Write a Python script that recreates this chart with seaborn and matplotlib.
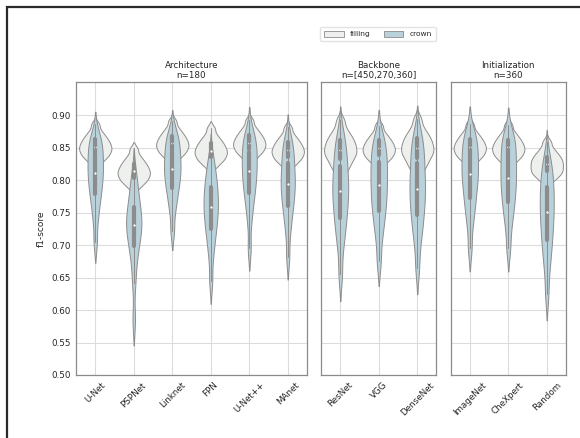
import numpy as np
import pandas as pd
import matplotlib
matplotlib.use("Agg")
import matplotlib.pyplot as plt
import seaborn as sns
from matplotlib.patches import Patch, Rectangle

# ---------------- data ----------------
arch_cats = ["U-Net", "PSPNet", "Linknet", "FPN", "U-Net++", "MAnet"]
back_cats = ["ResNet", "VGG", "DenseNet"]
init_cats = ["ImageNet", "CheXpert", "Random"]
panel_titles = ["Architecture\nn=180", "Backbone\nn=[450,270,360]", "Initialization\nn=360"]
types = ["filling", "crown"]

# filling distributions (approximate quantiles)
f_unet     = [0.826, 0.832, 0.836, 0.839, 0.842, 0.845, 0.848, 0.850, 0.853, 0.856, 0.859, 0.862, 0.866, 0.870, 0.876, 0.886]
f_pspnet   = [0.788, 0.794, 0.798, 0.801, 0.804, 0.807, 0.810, 0.812, 0.815, 0.818, 0.821, 0.824, 0.828, 0.832, 0.838, 0.848]
f_linknet  = [0.831, 0.837, 0.841, 0.844, 0.847, 0.850, 0.853, 0.855, 0.858, 0.861, 0.864, 0.867, 0.871, 0.875, 0.881, 0.891]
f_fpn      = [0.820, 0.826, 0.830, 0.833, 0.836, 0.839, 0.842, 0.844, 0.847, 0.850, 0.853, 0.856, 0.860, 0.864, 0.870, 0.880]
f_unetpp   = [0.832, 0.838, 0.842, 0.845, 0.848, 0.851, 0.854, 0.856, 0.859, 0.862, 0.865, 0.868, 0.872, 0.876, 0.882, 0.892]
f_manet    = [0.821, 0.827, 0.831, 0.834, 0.837, 0.840, 0.843, 0.845, 0.848, 0.851, 0.854, 0.857, 0.861, 0.865, 0.871, 0.881]
f_resnet   = [0.806, 0.817, 0.823, 0.829, 0.834, 0.838, 0.842, 0.845, 0.849, 0.853, 0.857, 0.861, 0.866, 0.871, 0.879, 0.892]
f_vgg      = [0.824, 0.830, 0.834, 0.837, 0.840, 0.843, 0.846, 0.848, 0.851, 0.854, 0.857, 0.860, 0.864, 0.868, 0.874, 0.884]
f_densenet = [0.808, 0.819, 0.825, 0.831, 0.836, 0.840, 0.844, 0.847, 0.851, 0.855, 0.859, 0.863, 0.868, 0.873, 0.881, 0.894]
f_imagenet = [0.826, 0.832, 0.836, 0.839, 0.842, 0.845, 0.848, 0.850, 0.853, 0.856, 0.859, 0.862, 0.866, 0.870, 0.876, 0.886]
f_chexpert = [0.825, 0.831, 0.835, 0.838, 0.841, 0.844, 0.847, 0.849, 0.852, 0.855, 0.858, 0.861, 0.865, 0.869, 0.875, 0.885]
f_random   = [0.798, 0.804, 0.808, 0.811, 0.814, 0.817, 0.820, 0.823, 0.826, 0.829, 0.832, 0.835, 0.839, 0.843, 0.849, 0.859]

# crown distributions (approximate quantiles)
c_unet     = [0.705, 0.738, 0.757, 0.771, 0.781, 0.791, 0.799, 0.807, 0.815, 0.822, 0.830, 0.838, 0.846, 0.854, 0.862, 0.873]
c_pspnet   = [0.585, 0.642, 0.672, 0.690, 0.702, 0.712, 0.720, 0.727, 0.734, 0.741, 0.748, 0.756, 0.766, 0.778, 0.792, 0.810]
c_linknet  = [0.722, 0.752, 0.768, 0.780, 0.790, 0.798, 0.806, 0.813, 0.820, 0.827, 0.834, 0.842, 0.850, 0.858, 0.866, 0.878]
c_fpn      = [0.645, 0.682, 0.702, 0.716, 0.727, 0.737, 0.746, 0.754, 0.762, 0.770, 0.778, 0.787, 0.796, 0.806, 0.818, 0.836]
c_unetpp   = [0.695, 0.736, 0.758, 0.772, 0.783, 0.793, 0.802, 0.810, 0.818, 0.826, 0.834, 0.842, 0.850, 0.858, 0.866, 0.878]
c_manet    = [0.682, 0.718, 0.738, 0.752, 0.763, 0.773, 0.782, 0.790, 0.798, 0.806, 0.815, 0.824, 0.834, 0.844, 0.854, 0.866]
c_resnet   = [0.655, 0.696, 0.717, 0.732, 0.745, 0.757, 0.768, 0.778, 0.787, 0.797, 0.807, 0.818, 0.830, 0.842, 0.855, 0.872]
c_vgg      = [0.675, 0.710, 0.729, 0.744, 0.756, 0.767, 0.777, 0.787, 0.797, 0.807, 0.816, 0.826, 0.836, 0.846, 0.857, 0.870]
c_densenet = [0.665, 0.702, 0.721, 0.736, 0.749, 0.760, 0.771, 0.781, 0.791, 0.801, 0.812, 0.823, 0.835, 0.847, 0.859, 0.874]
c_imagenet = [0.695, 0.730, 0.749, 0.763, 0.775, 0.786, 0.796, 0.805, 0.813, 0.821, 0.830, 0.839, 0.848, 0.857, 0.866, 0.878]
c_chexpert = [0.695, 0.726, 0.745, 0.758, 0.770, 0.780, 0.790, 0.799, 0.808, 0.817, 0.826, 0.836, 0.846, 0.855, 0.864, 0.876]
c_random   = [0.625, 0.662, 0.683, 0.698, 0.712, 0.724, 0.735, 0.746, 0.756, 0.766, 0.776, 0.786, 0.797, 0.808, 0.820, 0.836]

filling_lists = [f_unet, f_pspnet, f_linknet, f_fpn, f_unetpp, f_manet,
                 f_resnet, f_vgg, f_densenet, f_imagenet, f_chexpert, f_random]
crown_lists = [c_unet, c_pspnet, c_linknet, c_fpn, c_unetpp, c_manet,
               c_resnet, c_vgg, c_densenet, c_imagenet, c_chexpert, c_random]
all_cats = arch_cats + back_cats + init_cats
panel_of = ["arch"] * 6 + ["back"] * 3 + ["init"] * 3

rows = []
for cat, pan, fl, cr in zip(all_cats, panel_of, filling_lists, crown_lists):
    for v in fl:
        rows.append((pan, cat, "filling", v))
    for v in cr:
        rows.append((pan, cat, "crown", v))
df = pd.DataFrame(rows, columns=["panel", "category", "type", "value"])

# ---------------- style ----------------
sns.set_style("whitegrid", {"grid.color": "#dcdcdc", "axes.edgecolor": "#8a8a8a"})
plt.rcParams["font.family"] = ["DejaVu Sans"]

fill_col = "#eef0ee"
crown_col = "#b9d1db"
line_col = "#8c8c8c"
widths = {"filling": 0.84, "crown": 0.43}
norms = {"filling": "width", "crown": "area"}
bws = {"filling": 0.55, "crown": 0.6}
colors = {"filling": fill_col, "crown": crown_col}

fig = plt.figure(figsize=(5.8, 4.38), dpi=100)
gs = fig.add_gridspec(1, 3, width_ratios=[6, 3, 3], left=76 / 580, right=566 / 580,
                      top=1 - 82 / 438, bottom=1 - 375 / 438, wspace=0.091)
axes = [fig.add_subplot(gs[0, 0])]
axes.append(fig.add_subplot(gs[0, 1], sharey=axes[0]))
axes.append(fig.add_subplot(gs[0, 2], sharey=axes[0]))

for ax, pan, cats, title in zip(axes, ["arch", "back", "init"],
                                [arch_cats, back_cats, init_cats], panel_titles):
    for t in types:
        sub = df[(df["panel"] == pan) & (df["type"] == t)]
        sns.violinplot(data=sub, x="category", y="value", order=cats,
                       color=colors[t], saturation=1, density_norm=norms[t],
                       linecolor=line_col, linewidth=0.7, width=widths[t],
                       bw_adjust=bws[t], inner="box",
                       inner_kws={"box_width": 3, "whis_width": 0.7, "marker": ".",
                                  "markersize": 2},
                       ax=ax)
    ax.set_title(title, fontsize=6.3, pad=3, linespacing=1.1)
    ax.set_xlabel("")
    ax.set_ylabel("")
    ax.grid(True, axis="both", color="#dcdcdc", linewidth=0.8)
    ax.set_axisbelow(True)
    for s in ax.spines.values():
        s.set_color("#8a8a8a")
        s.set_linewidth(0.9)
    ax.tick_params(axis="x", labelsize=6.3, rotation=45, length=2, pad=2, color="#8a8a8a")
    ax.tick_params(axis="y", labelsize=6.3, length=2, pad=2, color="#8a8a8a")
    for lab in ax.get_xticklabels():
        lab.set_ha("center")

axes[0].set_ylim(0.5, 0.951)
yt = [0.50, 0.55, 0.60, 0.65, 0.70, 0.75, 0.80, 0.85, 0.90]
axes[0].set_yticks(yt)
axes[0].set_yticklabels([f"{t:.2f}" for t in yt])
axes[0].set_ylabel("f1-score", fontsize=6.5, labelpad=4)
for ax in axes[1:]:
    ax.tick_params(axis="y", labelleft=False, length=0)

handles = [Patch(facecolor=fill_col, edgecolor=line_col, linewidth=0.6, label="filling"),
           Patch(facecolor=crown_col, edgecolor=line_col, linewidth=0.6, label="crown")]
fig.legend(handles=handles, loc="center", bbox_to_anchor=(378 / 580, 1 - 34 / 438),
           ncol=2, fontsize=5.4, frameon=True, handlelength=2.6, handleheight=0.8,
           columnspacing=1.8, borderpad=0.55, edgecolor="#dddddd", fancybox=True)

# partial frame of the figure (top and left edges)
fig.add_artist(Rectangle((7 / 580, -0.2), 1.5, 1.2 - 7 / 438, transform=fig.transFigure,
                         fill=False, edgecolor="#2a2a2a", linewidth=1.6))

fig.savefig("out.png", dpi=100)
